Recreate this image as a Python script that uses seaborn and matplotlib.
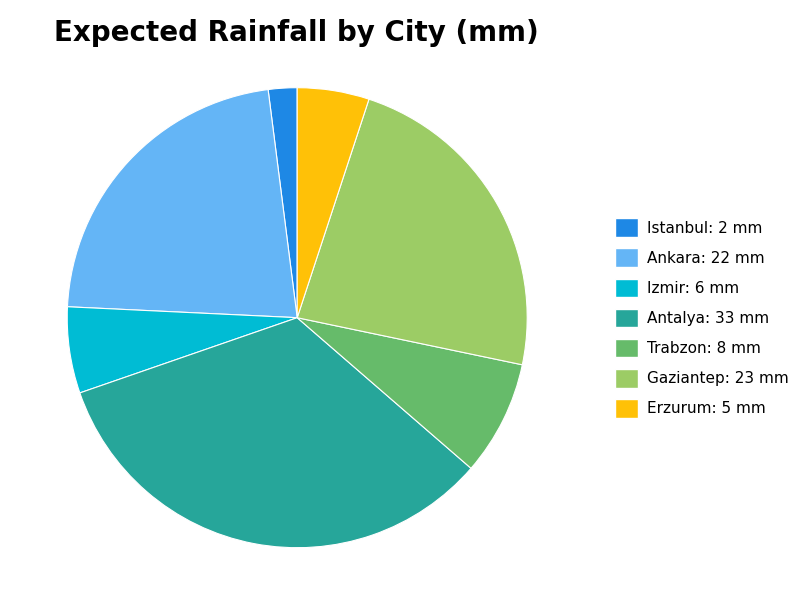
import matplotlib
matplotlib.use("Agg")
import matplotlib.pyplot as plt
import seaborn as sns
from matplotlib.patches import Patch

cities = ["Istanbul", "Ankara", "Izmir", "Antalya", "Trabzon", "Gaziantep", "Erzurum"]
rain_mm = [2, 22, 6, 33, 8, 23, 5]
colors = ["#1E88E5", "#64B5F6", "#00BCD4", "#26A69A", "#66BB6A", "#9CCC65", "#FFC107"]

sns.set_theme(style="white")
plt.rcParams["font.family"] = ["DejaVu Sans"]
plt.rcParams["text.color"] = "black"

fig = plt.figure(figsize=(8, 6), dpi=100)
ax = fig.add_axes([0.084, 0.087, 0.575, 0.767])
ax.pie(rain_mm, colors=colors, startangle=90, counterclock=True,
       wedgeprops={"edgecolor": "white", "linewidth": 0.8})
ax.set_xlim(-1, 1)
ax.set_ylim(-1, 1)
ax.set_aspect("equal")

handles = [Patch(facecolor=c, label=f"{n}: {v} mm") for n, v, c in zip(cities, rain_mm, colors)]
fig.legend(handles=handles, loc="center left", bbox_to_anchor=(0.752, 0.47),
           frameon=False, fontsize=11, handlelength=1.5, handleheight=1.5,
           labelspacing=0.75, handletextpad=0.6)

fig.text(0.068, 0.945, "Expected Rainfall by City (mm)", fontsize=20,
         fontweight="bold", va="center")

fig.savefig("out.png", dpi=100)
